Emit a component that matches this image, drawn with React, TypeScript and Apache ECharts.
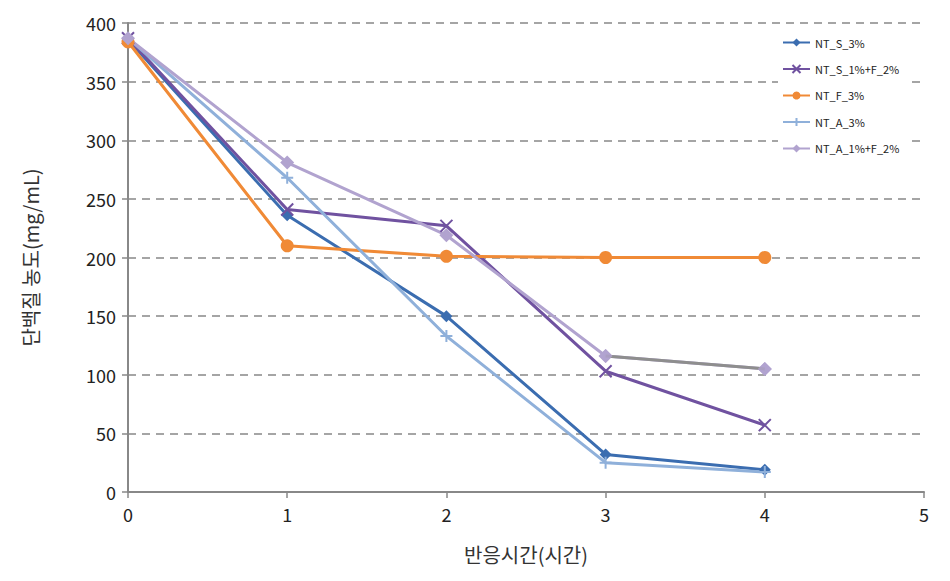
import React, { useEffect, useRef } from "react";
import * as echarts from "echarts";

const hours = [0, 1, 2, 3, 4];
const seriesNames = ["NT_S_3%", "NT_S_1%+F_2%", "NT_F_3%", "NT_A_3%", "NT_A_1%+F_2%"];
const ntS3 = [386, 236, 150, 32, 19];
const ntS1F2 = [387, 241, 227, 103, 57];
const ntF3 = [384, 210, 201, 200, 200];
const ntA3 = [387, 268, 133, 25, 17];
const ntA1F2 = [387, 281, 219, 116, 105];
const colors = ["#3B6DB0", "#7052A0", "#F08A36", "#8FB0DA", "#B1A3CF"];

const X_SYM = "path://M0,0L10,10M10,0L0,10";
const PLUS_SYM = "path://M5,0L5,10M0,5L10,5";

export default function App() {
  const ref = useRef<HTMLDivElement>(null);
  useEffect(() => {
    const chart = echarts.init(ref.current!, null, { renderer: "svg" });
    const font = "'Noto Sans CJK KR', 'Noto Sans', sans-serif";
    const mk = (i: number, data: number[], symbol: string, size: number, stroke?: boolean) => ({
      name: seriesNames[i],
      type: "line",
      data: hours.map((h, k) => [h, data[k]]),
      symbol,
      symbolSize: size,
      showSymbol: true,
      z: 3,
      lineStyle: { color: colors[i], width: 3 },
      itemStyle: stroke
        ? { color: "rgba(0,0,0,0)", borderColor: colors[i], borderWidth: 2 }
        : { color: colors[i] },
    });
    const grayData = hours.map((h, k) => [h, k >= 3 ? ntA1F2[k] : null]);
    chart.setOption({
      animation: false,
      textStyle: { fontFamily: font },
      grid: { left: 128, right: 26, top: 23, bottom: 89 },
      legend: {
        data: seriesNames,
        orient: "vertical",
        left: 778,
        top: 33,
        itemGap: 15.5,
        itemWidth: 27,
        itemHeight: 10,
        backgroundColor: "#ffffff",
        padding: [4, 8, 4, 4],
        textStyle: { fontSize: 11, color: "#222", fontFamily: font },
      },
      xAxis: {
        type: "value",
        min: 0,
        max: 5,
        interval: 1,
        name: "반응시간(시간)",
        nameLocation: "middle",
        nameGap: 52,
        nameTextStyle: { fontSize: 20, color: "#333", fontFamily: font },
        axisLine: { lineStyle: { color: "#888", width: 2 } },
        axisTick: { show: true, length: 6, lineStyle: { color: "#888", width: 1.5 } },
        axisLabel: { fontSize: 18, color: "#222", margin: 13 },
        splitLine: { show: false },
      },
      yAxis: {
        type: "value",
        min: 0,
        max: 400,
        interval: 50,
        name: "단백질 농도(mg/mL)",
        nameLocation: "middle",
        nameGap: 88,
        nameRotate: 90,
        nameTextStyle: { fontSize: 20, color: "#333", fontFamily: font },
        axisLine: { show: true, lineStyle: { color: "#888", width: 2 } },
        axisTick: { show: true, inside: false, length: 6, lineStyle: { color: "#888", width: 1.5 } },
        axisLabel: { fontSize: 18, color: "#222", margin: 12 },
        splitLine: { show: true, lineStyle: { color: "#888", type: [8, 6], width: 1.5 } },
      },
      series: [
        mk(0, ntS3, "diamond", 12),
        mk(1, ntS1F2, X_SYM, 12, true),
        mk(2, ntF3, "circle", 13),
        mk(3, ntA3, PLUS_SYM, 12, true),
        mk(4, ntA1F2, "diamond", 14),
        {
          name: "gray-seg",
          type: "line",
          data: grayData,
          symbol: "none",
          z: 4,
          lineStyle: { color: "#8E8E8E", width: 3 },
          connectNulls: false,
          silent: true,
        },
        {
          name: "NT_A_1%+F_2%",
          type: "scatter",
          data: hours.map((h, k) => [h, ntA1F2[k]]).slice(3),
          symbol: "diamond",
          symbolSize: 14,
          z: 5,
          itemStyle: { color: colors[4] },
        },
      ],
    });
    return () => chart.dispose();
  }, []);
  return <div ref={ref} style={{ width: 950, height: 581, margin: -8 }} />;
}
